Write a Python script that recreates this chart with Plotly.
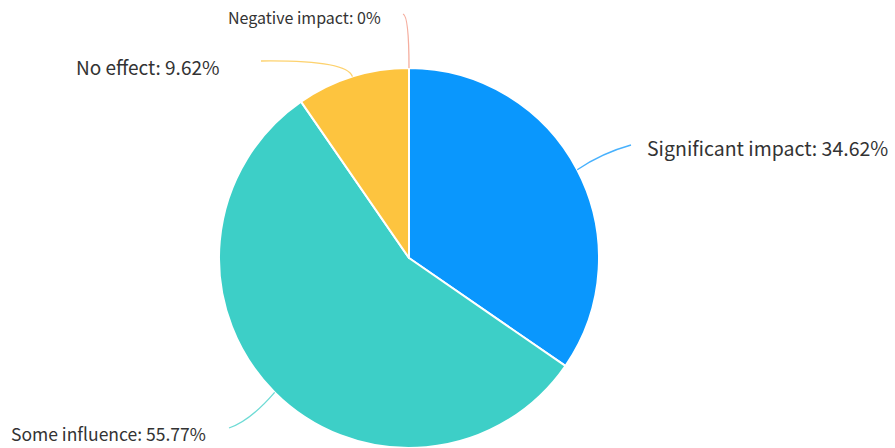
import math
import plotly.graph_objects as go

# ---- data ----
categories = ["Significant impact", "Some influence", "No effect", "Negative impact"]
shares = [34.62, 55.77, 9.62, 0]
colors = ["#0A97FD", "#3DCFC7", "#FDC43F", "#F2937F"]

# ---- layout constants (pixels) ----
W, H = 895, 448
CX, CY, R = 409, 258, 190

label_cfg = {
    "Significant impact": dict(end=(631, 145), ctrl=(602, 153), tx=645, ty=147, anchor="left", size=19.5),
    "Some influence": dict(end=(229, 428), ctrl=(250, 421), tx=208, ty=433, anchor="right", size=17.5),
    "No effect": dict(end=(261, 61), ctrl=(347, 60), tx=221, ty=67, anchor="right", size=19),
    "Negative impact": dict(end=(403, 14), ctrl=(409, 16), tx=383, ty=17, anchor="right", size=16),
}


def px(x):
    return x / W


def py(y):
    return 1 - y / H


fig = go.Figure(
    go.Pie(
        labels=categories,
        values=shares,
        sort=False,
        direction="clockwise",
        rotation=0,
        marker=dict(colors=colors, line=dict(color="white", width=2)),
        textinfo="none",
        hoverinfo="label+percent",
        showlegend=False,
        domain=dict(x=[px(CX - R), px(CX + R)], y=[0, 2 * (H - CY) / H]),
    )
)

total = sum(shares)
cum = 0.0
shapes = []
annotations = []
for cat, val, col in zip(categories, shares, colors):
    mid = (cum + val / 2) / total * 2 * math.pi
    cum += val
    x0 = CX + R * math.sin(mid)
    y0 = CY - R * math.cos(mid)
    cfg = label_cfg[cat]
    ex, ey = cfg["end"]
    cx, cy = cfg["ctrl"]
    path = f"M {px(x0)},{py(y0)} Q {px(cx)},{py(cy)} {px(ex)},{py(ey)}"
    shapes.append(dict(type="path", path=path, xref="paper", yref="paper",
                       line=dict(color=col, width=1.3), opacity=0.75))
    pct = f"{val:g}%"
    annotations.append(dict(
        text=f"{cat}: {pct}", x=px(cfg["tx"]), y=py(cfg["ty"]), xref="paper", yref="paper",
        xanchor=cfg["anchor"], yanchor="middle", showarrow=False,
        font=dict(family="Noto Sans CJK SC", size=cfg["size"], color="#333333"),
    ))

fig.update_layout(
    width=W, height=H,
    margin=dict(l=0, r=0, t=0, b=0),
    paper_bgcolor="white", plot_bgcolor="white",
    shapes=shapes, annotations=annotations,
)

fig.write_html(
    "out.html",
    config={"displayModeBar": False},
    post_script="document.body.style.margin='0';document.body.style.overflow='hidden';",
)
